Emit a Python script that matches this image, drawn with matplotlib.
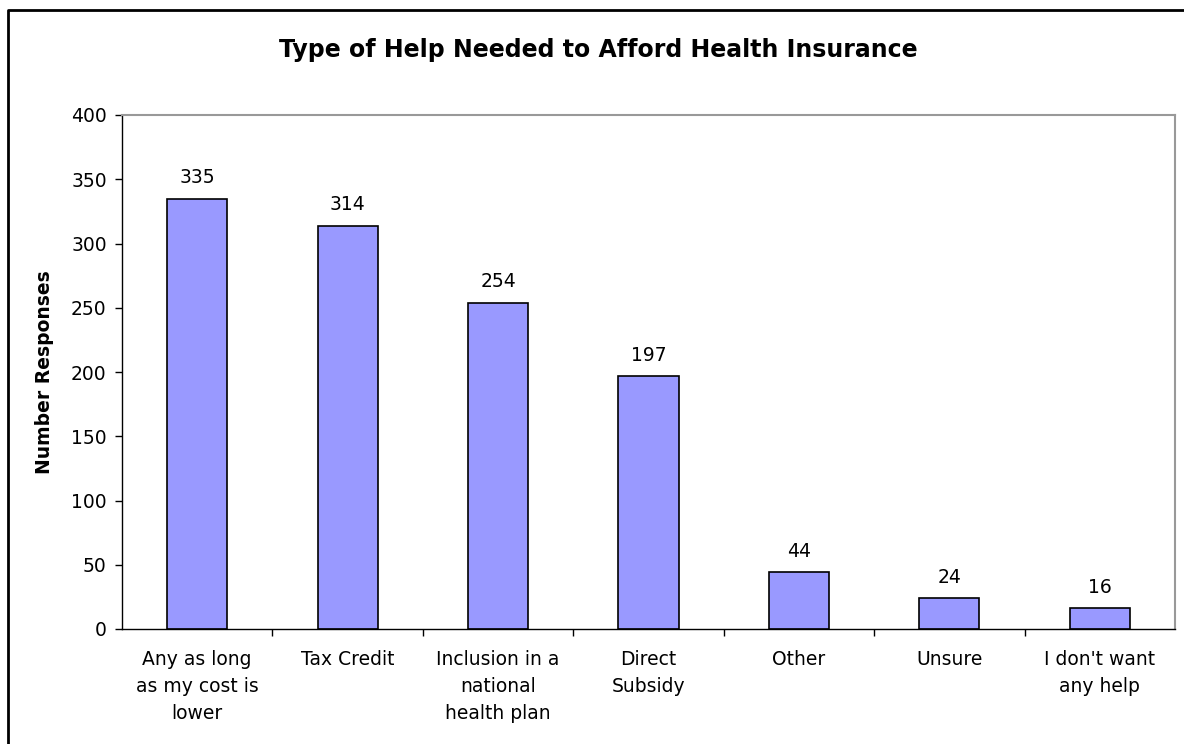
import matplotlib.pyplot as plt
from matplotlib.lines import Line2D

categories = ["Any as long\nas my cost is\nlower", "Tax Credit", "Inclusion in a\nnational\nhealth plan",
              "Direct\nSubsidy", "Other", "Unsure", "I don't want\nany help"]
responses = [335, 314, 254, 197, 44, 24, 16]
yticks = [0, 50, 100, 150, 200, 250, 300, 350, 400]

plt.rcParams['font.family'] = 'DejaVu Sans'

fig = plt.figure(figsize=(11.84, 7.44), dpi=100)
ax = fig.add_axes([122 / 1184, 1 - 629 / 744, (1175 - 122) / 1184, (629 - 115) / 744])

x = range(len(categories))
bars = ax.bar(x, responses, width=0.4, color='#9999FF', edgecolor='black', linewidth=1.2)
for b, v in zip(bars, responses):
    ax.annotate(str(v), (b.get_x() + b.get_width() / 2, v), xytext=(0, 8),
                textcoords='offset points', ha='center', va='bottom', fontsize=13.5)

ax.set_xlim(-0.5, len(categories) - 0.5)
ax.set_ylim(0, 400)
ax.set_yticks(yticks)
ax.set_xticks(x)
ax.set_xticklabels(categories, fontsize=13.5, linespacing=1.55, va='top')
ax.set_xticks([i + 0.5 for i in range(len(categories) - 1)], minor=True)
ax.tick_params(axis='x', which='major', length=0, pad=15)
ax.tick_params(axis='x', which='minor', length=5, width=1, direction='out')
ax.tick_params(axis='y', labelsize=13.5, length=5, width=1, pad=6)

for s in ['top', 'right']:
    ax.spines[s].set_color('#999999')
    ax.spines[s].set_linewidth(1.5)
for s in ['left', 'bottom']:
    ax.spines[s].set_color('black')
    ax.spines[s].set_linewidth(1)

ax.set_ylabel('Number Responses', fontsize=13.5, fontweight='bold', labelpad=12)
fig.text(598 / 1184, 1 - 50 / 744, 'Type of Help Needed to Afford Health Insurance',
         ha='center', va='center', fontsize=17, fontweight='bold')

# chart frame (only left and top edges visible)
fig.add_artist(Line2D([8 / 1184, 8 / 1184, 1.0], [0.0, 1 - 10 / 744, 1 - 10 / 744],
                      transform=fig.transFigure, color='black', linewidth=2))

fig.savefig('out.png', dpi=100)
